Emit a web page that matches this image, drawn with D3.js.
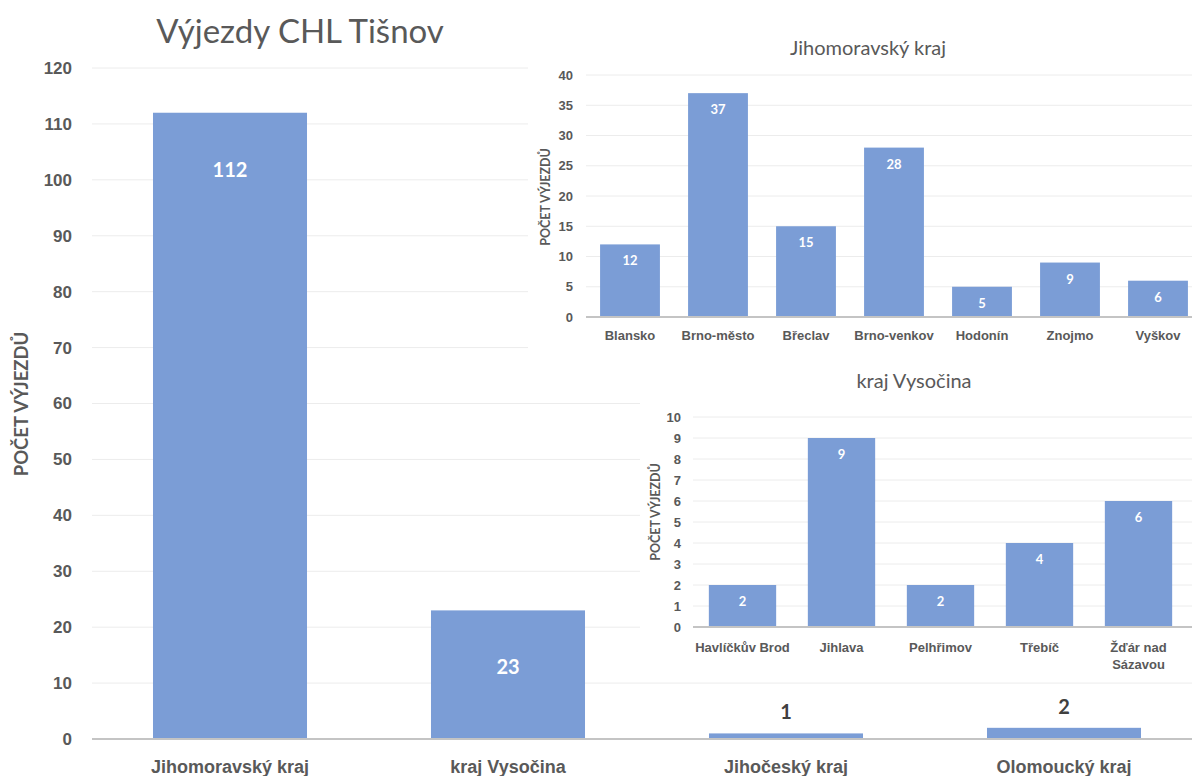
<!DOCTYPE html>
<html><head><meta charset="utf-8">
<script src="https://cdn.jsdelivr.net/npm/d3@7"></script>
<style>html,body{margin:0;padding:0;background:#fff;}svg{display:block;font-family:Lato,"Open Sans",sans-serif;}</style>
</head><body>
<svg id="c" width="1192" height="776"></svg>
<script>
// ---- data ----
const mainTitle = "Výjezdy CHL Tišnov";
const mainCategories = ["Jihomoravský kraj","kraj Vysočina","Jihočeský kraj","Olomoucký kraj"];
const mainValues = [112, 23, 1, 2];
const mainTicks = [0,10,20,30,40,50,60,70,80,90,100,110,120];

const jmTitle = "Jihomoravský kraj";
const jmCategories = ["Blansko","Brno-město","Břeclav","Brno-venkov","Hodonín","Znojmo","Vyškov"];
const jmValues = [12, 37, 15, 28, 5, 9, 6];
const jmTicks = [0,5,10,15,20,25,30,35,40];

const vyTitle = "kraj Vysočina";
const vyCategories = ["Havlíčkův Brod","Jihlava","Pelhřimov","Třebíč","Žďár nad Sázavou"];
const vyValues = [2, 9, 2, 4, 6];
const vyTicks = [0,1,2,3,4,5,6,7,8,9,10];

const yTitle = "POČET VÝJEZDŮ";

// ---- styles ----
const BAR = "#7b9dd6", TXT = "#595959", GRID = "#ececec", AXIS = "#c4c4c4";
const svg = d3.select("#c");

function drawChart(cfg) {
  const g = svg.append("g");
  if (cfg.bg) g.append("rect").attr("x", cfg.bg[0]).attr("y", cfg.bg[1])
     .attr("width", cfg.bg[2]).attr("height", cfg.bg[3]).attr("fill", "#fff");
  const y = d3.scaleLinear().domain([0, d3.max(cfg.ticks)]).range([cfg.y0, cfg.y1]);
  const x = d3.scaleBand().domain(cfg.cats).range([cfg.x0, cfg.x1])
     .paddingInner(cfg.pad).paddingOuter(cfg.pad / 2);
  // grid
  g.append("g").selectAll("line").data(cfg.ticks.slice(1)).join("line")
    .attr("x1", cfg.gx0).attr("x2", cfg.gx1)
    .attr("y1", d => y(d)).attr("y2", d => y(d))
    .attr("stroke", GRID).attr("stroke-width", 1);
  // y axis labels
  const ya = d3.axisLeft(y).tickValues(cfg.ticks).tickSize(0).tickPadding(0);
  const yg = g.append("g").attr("transform", `translate(${cfg.tickX},0)`).call(ya);
  yg.select(".domain").remove();
  yg.selectAll("text").attr("fill", TXT).attr("font-size", cfg.tickFs).attr("font-weight", "bold");
  // bars
  g.append("g").selectAll("rect").data(cfg.vals).join("rect")
    .attr("x", (d, i) => x(cfg.cats[i])).attr("width", x.bandwidth())
    .attr("y", d => y(d)).attr("height", d => y(0) - y(d)).attr("fill", BAR);
  // baseline
  g.append("line").attr("x1", cfg.gx0).attr("x2", cfg.gx1)
    .attr("y1", y(0)).attr("y2", y(0)).attr("stroke", AXIS).attr("stroke-width", 2);
  // x axis
  const xa = d3.axisBottom(x).tickSize(0).tickPadding(0);
  const xg = g.append("g").attr("transform", `translate(0,${cfg.catY})`).call(xa);
  xg.select(".domain").remove();
  xg.selectAll("text").attr("fill", TXT).attr("font-size", cfg.catFs).attr("font-weight", "bold")
    .attr("dy", "0.35em")
    .each(function(d) {
      const t = d3.select(this);
      if (cfg.wrap && cfg.wrap[d]) {
        t.text(null);
        cfg.wrap[d].forEach((s, k) => t.append("tspan").attr("x", 0)
          .attr("dy", k === 0 ? "0.35em" : "1.35em").text(s));
      }
    });
  // value labels
  g.append("g").selectAll("text").data(cfg.vals).join("text")
    .attr("x", (d, i) => x(cfg.cats[i]) + x.bandwidth() / 2)
    .attr("y", d => cfg.outside && cfg.outside(d) ? y(d) - cfg.outOff : y(d) + cfg.inOff)
    .attr("text-anchor", "middle").attr("dominant-baseline", "central")
    .attr("font-size", cfg.valFs).attr("font-weight", "bold")
    .attr("fill", d => cfg.outside && cfg.outside(d) ? "#404040" : "#fff")
    .text(d => d);
  // title
  g.append("text").attr("x", cfg.titleX).attr("y", cfg.titleY).attr("text-anchor", "middle")
    .attr("dominant-baseline", "central").attr("fill", TXT)
    .attr("font-size", cfg.titleFs).attr("font-weight", cfg.titleW).text(cfg.title);
  // y title
  g.append("text").attr("transform", `translate(${cfg.yTitleX},${cfg.yTitleY}) rotate(-90)`)
    .attr("text-anchor", "middle").attr("dominant-baseline", "central")
    .attr("fill", TXT).attr("font-size", cfg.yTitleFs).attr("font-weight", "bold").text(yTitle);
}

drawChart({
  cats: mainCategories, vals: mainValues, ticks: mainTicks,
  y0: 739, y1: 68, x0: 91, x1: 1203, pad: 0.446, gx0: 92, gx1: 1192,
  tickX: 72, tickFs: 17, catY: 767, catFs: 18, valFs: 20, inOff: 56,
  outside: d => d < 10, outOff: 22,
  title: mainTitle, titleX: 300, titleY: 30, titleFs: 33, titleW: "normal",
  yTitleX: 21, yTitleY: 404, yTitleFs: 18.5
});

drawChart({
  cats: jmCategories, vals: jmValues, ticks: jmTicks, bg: [528, 28, 664, 322],
  y0: 317, y1: 75, x0: 586, x1: 1202, pad: 0.32, gx0: 586, gx1: 1192,
  tickX: 573, tickFs: 13, catY: 335, catFs: 13, valFs: 13, inOff: 16,
  title: jmTitle, titleX: 868, titleY: 47, titleFs: 20, titleW: "normal",
  yTitleX: 545, yTitleY: 197, yTitleFs: 12.5
});

drawChart({
  cats: vyCategories, vals: vyValues, ticks: vyTicks, bg: [640, 362, 552, 316],
  y0: 627, y1: 417, x0: 693, x1: 1188, pad: 0.32, gx0: 693, gx1: 1192,
  tickX: 681, tickFs: 13, catY: 647, catFs: 13, valFs: 13, inOff: 16,
  wrap: {"Žďár nad Sázavou": ["Žďár nad", "Sázavou"]},
  title: vyTitle, titleX: 914, titleY: 380, titleFs: 20, titleW: "normal",
  yTitleX: 655, yTitleY: 512, yTitleFs: 12.5
});
</script>
</body></html>
